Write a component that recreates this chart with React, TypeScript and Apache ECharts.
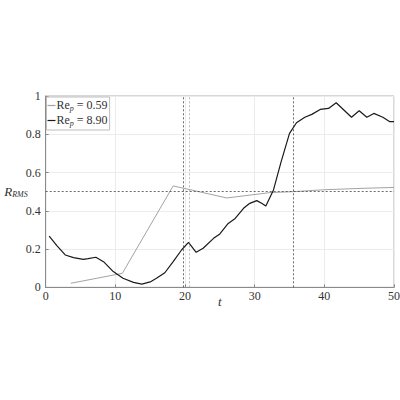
import React from 'react';
import * as echarts from 'echarts';

const lowT = [3.6, 11.0, 18.3, 26.0, 32.2, 35.6, 40.0, 46.0, 50.0];
const lowR = [0.021, 0.073, 0.53, 0.467, 0.495, 0.5, 0.51, 0.518, 0.522];

const highT = [
  0.5, 1.6, 2.8, 4.0, 5.4, 6.1, 7.2, 8.3, 9.7, 11.1, 12.6, 13.8, 15.0, 15.9, 17.1, 18.3, 19.5, 20.5,
  21.6, 22.6, 24.1, 25.0, 26.2, 27.2, 28.4, 29.3, 30.3, 31.0, 31.6, 32.7, 33.8, 35.0, 36.0, 37.2,
  38.2, 39.4, 40.6, 41.7, 42.8, 43.9, 45.0, 46.1, 47.1, 48.4, 49.4, 50.0,
];
const highR = [
  0.268, 0.218, 0.169, 0.155, 0.146, 0.15, 0.157, 0.134, 0.082, 0.047, 0.026, 0.017, 0.028, 0.047,
  0.076, 0.134, 0.195, 0.235, 0.183, 0.204, 0.256, 0.279, 0.334, 0.36, 0.413, 0.439, 0.453, 0.439,
  0.425, 0.509, 0.657, 0.805, 0.86, 0.889, 0.904, 0.93, 0.935, 0.965, 0.927, 0.889, 0.923, 0.889,
  0.909, 0.889, 0.866, 0.866,
];

const darkMarks = [19.8, 35.6];
const lightMarks = [20.6];
const threshold = 0.5;

const seriesNames = ['Re_p = 0.59', 'Re_p = 8.90'];
const legendValues = ['0.59', '8.90'];

const FONT = 'Liberation Serif';
const INK = '#333';

const App = () => {
  const chartRef = React.useRef(null);

  React.useEffect(() => {
    document.body.style.margin = '0';
    const myChart = echarts.init(chartRef.current, null, { renderer: 'svg' });

    myChart.setOption({
      animation: false,
      textStyle: { fontFamily: FONT },
      grid: {
        left: 45.7,
        right: 6,
        top: 96,
        bottom: 112.7,
        outerBoundsMode: 'none',
        containLabel: false,
        show: true,
        borderColor: '#b0b0b0',
        borderWidth: 1,
      },
      legend: {
        left: 46.5,
        top: 97,
        orient: 'vertical',
        itemGap: 2,
        itemWidth: 8,
        itemHeight: 1.2,
        icon: 'rect',
        backgroundColor: '#fff',
        borderColor: '#bdbdbd',
        borderWidth: 1,
        borderRadius: 0,
        padding: [2, 2, 3, 1],
        formatter: (name: string) => {
          const i = seriesNames.indexOf(name);
          return `{a|Re}{s|p}{a| = ${legendValues[i]}}`;
        },
        textStyle: {
          fontFamily: FONT,
          padding: [0, 0, 0, -4],
          rich: {
            a: { fontFamily: FONT, fontSize: 12, color: INK, verticalAlign: 'top', lineHeight: 13 },
            s: {
              fontFamily: FONT,
              fontSize: 8,
              fontStyle: 'italic',
              color: INK,
              verticalAlign: 'top',
              lineHeight: 13,
              padding: [5, 0, 0, 0],
            },
          },
        },
      },
      xAxis: {
        type: 'value',
        min: 0,
        max: 50,
        interval: 10,
        name: 't',
        nameLocation: 'middle',
        nameGap: 8,
        nameMoveOverlap: false,
        nameTextStyle: { fontFamily: FONT, fontStyle: 'italic', fontSize: 13, color: INK },
        axisLine: { lineStyle: { color: '#8a8a8a' } },
        axisTick: { inside: true, length: 3, lineStyle: { color: '#8a8a8a' } },
        axisLabel: { fontFamily: FONT, fontSize: 12, color: INK, margin: 3 },
        splitLine: { lineStyle: { color: '#ececec' } },
      },
      yAxis: {
        type: 'value',
        min: 0,
        max: 1,
        interval: 0.2,
        name: '{i|R}{s|RMS}',
        nameLocation: 'middle',
        nameRotate: 0,
        nameGap: 18,
        nameMoveOverlap: false,
        nameTextStyle: {
          fontFamily: FONT,
          rich: {
            i: { fontFamily: FONT, fontStyle: 'italic', fontSize: 13, color: INK, verticalAlign: 'top', lineHeight: 14 },
            s: {
              fontFamily: FONT,
              fontStyle: 'italic',
              fontSize: 8,
              color: INK,
              verticalAlign: 'top',
              lineHeight: 14,
              padding: [6, 0, 0, 0],
            },
          },
        },
        axisLine: { show: true, lineStyle: { color: '#8a8a8a' } },
        axisTick: { show: true, inside: true, length: 3, lineStyle: { color: '#8a8a8a' } },
        axisLabel: { fontFamily: FONT, fontSize: 12, color: INK, margin: 5 },
        splitLine: { lineStyle: { color: '#ececec' } },
      },
      series: [
        {
          name: seriesNames[0],
          type: 'line',
          data: lowT.map((t, i) => [t, lowR[i]]),
          showSymbol: false,
          color: '#a3a3a3',
          lineStyle: { width: 1, color: '#a3a3a3' },
          z: 3,
          markLine: {
            silent: true,
            symbol: 'none',
            label: { show: false },
            lineStyle: { type: [2, 2], width: 0.8, color: '#aaaaaa' },
            data: lightMarks.map((t) => ({ xAxis: t })),
          },
        },
        {
          name: seriesNames[1],
          type: 'line',
          data: highT.map((t, i) => [t, highR[i]]),
          showSymbol: false,
          color: '#1a1a1a',
          lineStyle: { width: 1.2, color: '#1a1a1a' },
          z: 4,
          markLine: {
            silent: true,
            symbol: 'none',
            label: { show: false },
            lineStyle: { type: [2, 2], width: 0.8, color: '#444' },
            data: [...darkMarks.map((t) => ({ xAxis: t })), { yAxis: threshold }],
          },
        },
      ],
    });

    return () => {
      myChart.dispose();
    };
  }, []);

  return <div ref={chartRef} style={{ width: '400px', height: '400px' }} />;
};

export default App;
